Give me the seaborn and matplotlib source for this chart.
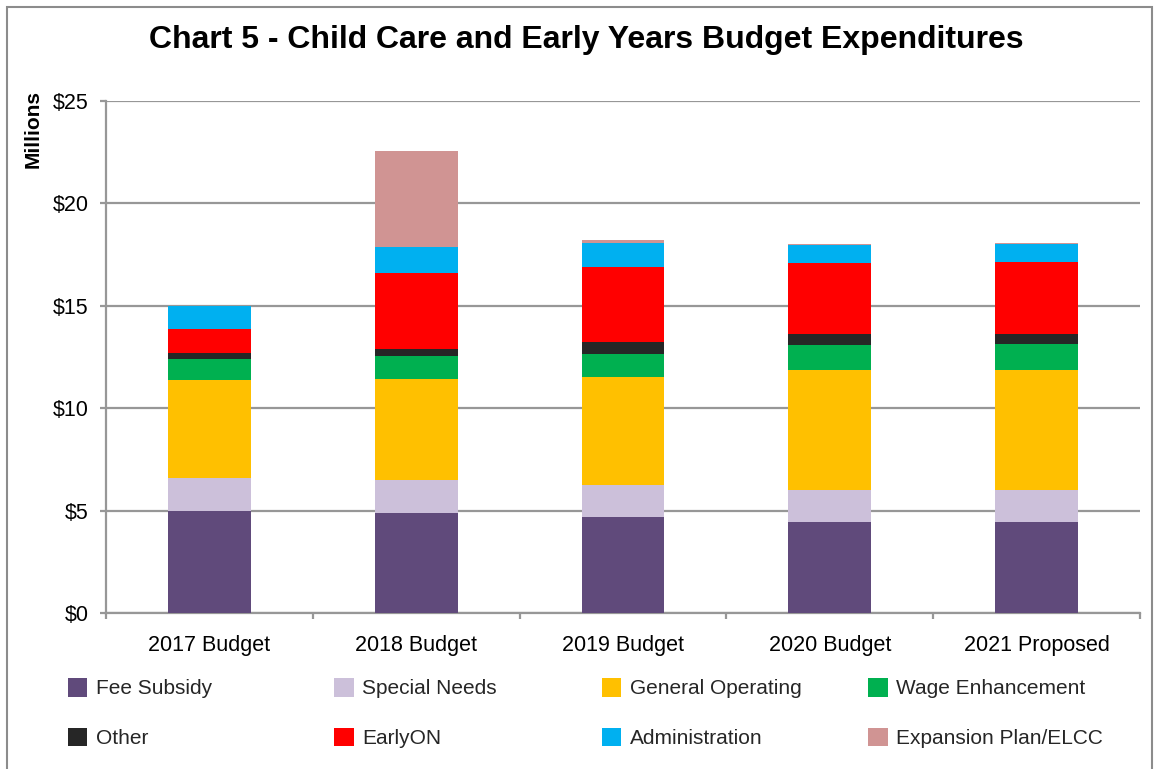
import matplotlib
matplotlib.use("Agg")
import matplotlib.pyplot as plt
from matplotlib.patches import Patch, Rectangle
from matplotlib.ticker import FuncFormatter
import numpy as np
import pandas as pd
import seaborn as sns

# Budget years and expenditure components ($ millions)
categories = ["2017 Budget", "2018 Budget", "2019 Budget", "2020 Budget", "2021 Proposed"]
fee_subsidy = [5.00, 4.90, 4.67, 4.46, 4.46]
special_needs = [1.57, 1.57, 1.56, 1.57, 1.57]
general_operating = [4.80, 4.95, 5.29, 5.83, 5.83]
wage_enhancement = [1.03, 1.13, 1.13, 1.23, 1.28]
other = [0.30, 0.34, 0.59, 0.54, 0.49]
early_on = [1.17, 3.73, 3.64, 3.48, 3.53]
administration = [1.14, 1.24, 1.17, 0.88, 0.88]
expansion_elcc = [0.00, 4.69, 0.14, 0.05, 0.05]

series_names = ["Fee Subsidy", "Special Needs", "General Operating", "Wage Enhancement",
                "Other", "EarlyON", "Administration", "Expansion Plan/ELCC"]
series_values = [fee_subsidy, special_needs, general_operating, wage_enhancement,
                 other, early_on, administration, expansion_elcc]
series_colors = ["#604A7B", "#CCC0DA", "#FFC000", "#00B050",
                 "#262626", "#FF0000", "#00B0F0", "#D09493"]

y_ticks = [0, 5, 10, 15, 20, 25]

sns.set_theme(style="white")
plt.rcParams["font.family"] = ["Liberation Sans", "DejaVu Sans"]

W, H = 1158, 769
fig = plt.figure(figsize=(W / 100, H / 100), dpi=100)
ax = fig.add_axes([106 / W, 1 - 613 / H, (1140 - 106) / W, (613 - 101) / H])

# Stacked bars: draw cumulative totals from the top layer downwards
df = pd.DataFrame({name: vals for name, vals in zip(series_names, series_values)}, index=categories)
cum = df.cumsum(axis=1)
for name, color in reversed(list(zip(series_names, series_colors))):
    sns.barplot(x=categories, y=cum[name].values, order=categories, color=color,
                saturation=1, width=0.4, errorbar=None, linewidth=0, ax=ax, zorder=3)

grid_c = "#979797"
ax.set_ylim(0, 25)
ax.set_xlim(-0.5, len(categories) - 0.5)
ax.set_yticks(y_ticks)
ax.yaxis.set_major_formatter(FuncFormatter(lambda v, p: f"${v:.0f}"))
ax.yaxis.grid(True, color=grid_c, linewidth=1.6, zorder=0)
ax.set_axisbelow(True)
ax.set_xticks(np.arange(-0.5, len(categories), 1.0), minor=True)
ax.tick_params(axis="x", which="major", length=0, pad=16, labelsize=15.5, labelcolor="#000000")
ax.tick_params(axis="x", which="minor", length=4, width=1.6, color=grid_c, direction="out")
ax.tick_params(axis="y", which="major", length=4.5, width=1.6, color=grid_c, direction="out",
               pad=8, labelsize=15.5, labelcolor="#000000")
ax.yaxis.set_ticks_position("left")
ax.xaxis.set_ticks_position("bottom")
for side in ["top", "right"]:
    ax.spines[side].set_visible(False)
for side in ["left", "bottom"]:
    ax.spines[side].set_color(grid_c)
    ax.spines[side].set_linewidth(1.6)
ax.set_xlabel("")
ax.set_ylabel("")

# Titles
fig.text(586.5 / W, 1 - 40 / H, "Chart 5 - Child Care and Early Years Budget Expenditures",
         ha="center", va="center", fontsize=23, fontweight="bold", color="#000000")
fig.text(33 / W, 1 - 129 / H, "Millions", rotation=90, ha="center", va="center",
         fontsize=15, fontweight="bold", color="#000000")

# Legend: four columns of two entries
col_x = [67.5, 334, 601.5, 868]
for c in range(4):
    handles = [Patch(facecolor=series_colors[c], edgecolor="none", label=series_names[c]),
               Patch(facecolor=series_colors[c + 4], edgecolor="none", label=series_names[c + 4])]
    fig.legend(handles=handles, loc="center left", bbox_to_anchor=(col_x[c] / W, 1 - 713 / H),
               frameon=False, fontsize=15, handlelength=0.95, handleheight=1.0,
               handletextpad=0.4, labelspacing=1.4, borderpad=0, borderaxespad=0)

# Chart area border
fig.add_artist(Rectangle((7 / W, -0.02), (1152 - 7) / W, 1.02 - 7 / H, transform=fig.transFigure,
                         fill=False, edgecolor="#8C8C8C", linewidth=1.5))

fig.savefig("out.png", dpi=100)
